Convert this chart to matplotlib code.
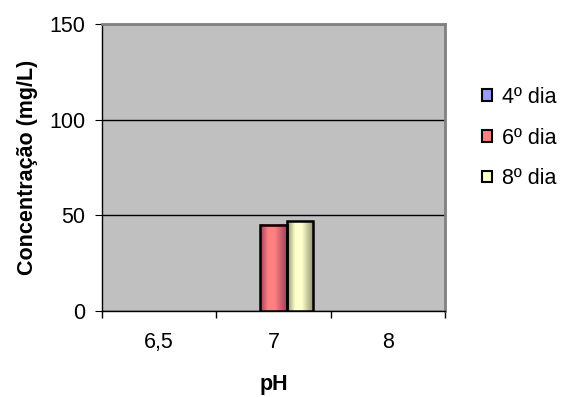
import matplotlib.pyplot as plt
import numpy as np
from matplotlib.patches import Patch
from matplotlib.colors import LinearSegmentedColormap

plt.rcParams['font.family'] = ['Liberation Sans', 'DejaVu Sans']

categories = ["6,5", "7", "8"]
series_names = ["4º dia", "6º dia", "8º dia"]
dia4 = [0, 0, 0]
dia6 = [0, 45, 0]
dia8 = [0, 47, 0]
colors = ["#9999ff", "#ff8080", "#ffffcc"]
dark = ["#5050a0", "#a04060", "#909070"]

fs = 15.5
fig = plt.figure(figsize=(5.73, 3.97), dpi=100)
ax = fig.add_axes([102 / 573, 1 - 311 / 397, 343 / 573, 287 / 397])
ax.set_facecolor("#c0c0c0")

x = np.arange(len(categories))
w = 0.228
for i, vals in enumerate([dia4, dia6, dia8]):
    vals = np.array(vals, dtype=float)
    mask = vals > 0
    if not mask.any():
        continue
    bars = ax.bar(x[mask] + (i - 1) * w, vals[mask], width=w, color="none",
                  edgecolor="black", linewidth=1.8, zorder=4)
    # excel-like horizontal shading: dark edges, light near the middle
    cmap = LinearSegmentedColormap.from_list(
        "g%d" % i, [(0, dark[i]), (0.3, colors[i]), (0.55, colors[i]), (1, dark[i])])
    grad = np.linspace(0, 1, 64).reshape(1, -1)
    for b in bars:
        bx, by = b.get_x(), b.get_y()
        ax.imshow(grad, cmap=cmap, aspect="auto", zorder=3, interpolation="bilinear",
                  extent=[bx, bx + b.get_width(), by, by + b.get_height()])

ax.set_xlim(-0.5, 2.5)
ax.set_ylim(0, 150)
ax.set_yticks([0, 50, 100, 150])
ax.yaxis.grid(True, color="black", linewidth=1, zorder=1)
ax.set_axisbelow(True)

ax.set_xticks([-0.5, 0.5, 1.5, 2.5])
ax.set_xticklabels([])
ax.set_xticks(x, minor=True)
ax.set_xticklabels(categories, minor=True, fontsize=fs)
ax.tick_params(axis="x", which="minor", length=0, pad=15)
ax.tick_params(axis="x", which="major", length=5, direction="out", width=1)
ax.tick_params(axis="y", length=5, direction="out", labelsize=fs, pad=7)

for s in ["top", "right"]:
    ax.spines[s].set_color("#808080")
    ax.spines[s].set_linewidth(2)
for s in ["left", "bottom"]:
    ax.spines[s].set_color("black")
    ax.spines[s].set_linewidth(1)

ax.set_ylabel("Concentração (mg/L)", fontsize=fs, fontweight="bold", labelpad=8)
ax.set_xlabel("pH", fontsize=fs, fontweight="bold", labelpad=15)

handles = [Patch(facecolor=c, edgecolor="black", linewidth=1.5) for c in colors]
fig.legend(handles, series_names, loc="center left",
           bbox_to_anchor=(482 / 573, 1 - 138 / 397), frameon=False,
           fontsize=fs, handlelength=0.45, handleheight=0.45,
           handletextpad=0.5, labelspacing=0.92, borderpad=0, borderaxespad=0)

fig.savefig("out.png", dpi=100)
